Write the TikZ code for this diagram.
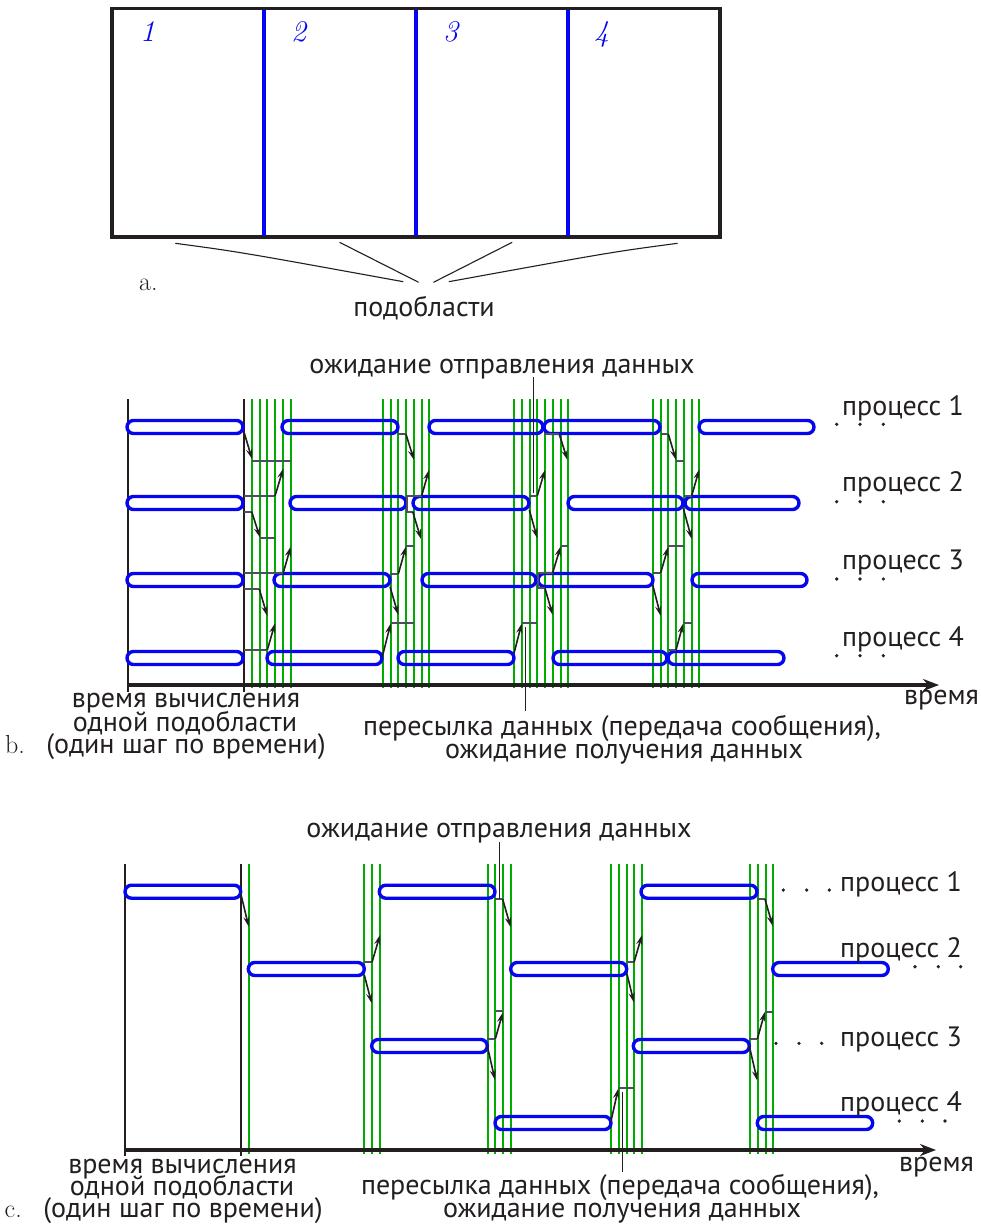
\documentclass[tikz,border=0pt]{standalone}
\usepackage{fontspec}
\newfontfamily\ru{PT Sans}
\usetikzlibrary{arrows.meta}
\definecolor{ink}{RGB}{35,31,32}
\definecolor{pblue}{RGB}{5,5,240}
\definecolor{ggreen}{RGB}{0,172,0}
\definecolor{wgray}{RGB}{78,78,92}
% one time-step of computation, drawn as a capsule
\newcommand\tpill[3]{\draw[pill] (#1,#3-6.5) rectangle (#2,#3+6.5);}
\begin{document}
\begin{tikzpicture}[x=1pt,y=-1pt,
  frame/.style={draw=ink,line width=3.4pt},
  divider/.style={draw=pblue,line width=3.4pt},
  digit/.style={text=pblue,font=\fontsize{30}{30}\selectfont\itshape,inner sep=0pt},
  lbl/.style={text=ink,font=\ru\fontsize{28}{28}\selectfont,inner sep=0pt},
  part/.style={text=ink,font=\fontsize{26}{26}\selectfont,inner sep=0pt},
  pointer/.style={draw=ink,line width=1.1pt},
  guide/.style={draw=ink,line width=2pt},
  grn/.style={draw=ggreen,line width=2.3pt},
  pill/.style={draw=pblue,line width=3.4pt,rounded corners=6.5pt},
  wait/.style={draw=wgray,line width=2.3pt},
  msg/.style={draw=ink,line width=1.6pt,-{Stealth[length=10pt,width=6pt]}},
  axis/.style={draw=ink,line width=4pt,-{Stealth[length=16pt,width=12pt]}},
  callout/.style={draw=ink,line width=1.5pt},
  dot/.style={fill=ink}]
\useasboundingbox (0,0) rectangle (981,1226);
\fill[white] (0,0) rectangle (981,1226);

% ---------------- a. domain split into four subdomains
\draw[frame] (112,8.5) rectangle (720,237);
\foreach \x in {264,416,568} \draw[divider] (\x,10) -- (\x,235.5);
\node[digit,anchor=base west] (d1) at (140,41.5) {1};
\node[digit,anchor=base west] (d2) at (291,41.5) {2};
\node[digit,anchor=base west] (d3) at (443,41.5) {3};
\node[digit,anchor=base west] (d4) at (594,41.5) {4};
\node[lbl,anchor=base] (sub) at (424,316) {подобласти};
\node[part,anchor=base west] (pa) at (139,290) {a.};
\coordinate (s1) at (175.3,243.3);
\coordinate (s2) at (339.5,242.3);
\coordinate (s3) at (512.2,242.3);
\coordinate (s4) at (677.6,243.3);
\coordinate (e1) at (403.3,281.7);
\coordinate (e2) at (418.6,282.3);
\coordinate (e3) at (433.5,282.3);
\coordinate (e4) at (448.8,281.7);
\draw[pointer] (s1) .. controls (240,252) .. (e1);
\draw[pointer] (s2) -- (e2);
\draw[pointer] (s3) -- (e3);
\draw[pointer] (s4) .. controls (612,252) .. (e4);

% ---------------- b. four processes, each step exchanging with both neighbours
\foreach \x in {252,259.7,267.3,275,283,290.7,
                382.7,390.7,398.3,406,414,421.7,429.3,
                514,521.7,530,537.3,545,552.7,560.7,568.3,
                652.7,660.7,668.3,676,684,691.7,699.3}
  \draw[grn] (\x,399) -- (\x,688);
\draw[guide] (128,399) -- (128,692);
\draw[guide] (244,399) -- (244,692);
\draw[axis] (126.5,685) -- (939,685);

\tpill{127}{243}{427}\tpill{282}{398}{427}\tpill{429}{543}{427}\tpill{544}{660}{427}\tpill{699}{814}{427}
\tpill{127}{243}{503}\tpill{290}{406}{503}\tpill{413}{529}{503}\tpill{568}{683}{503}\tpill{685}{799}{503}
\tpill{127}{243}{580}\tpill{274}{390}{580}\tpill{422}{536}{580}\tpill{538}{653}{580}\tpill{692}{807}{580}
\tpill{127}{243}{658}\tpill{267}{382}{658}\tpill{398}{514}{658}\tpill{553}{667}{658}\tpill{668}{784}{658}

% exchange 1
\draw[msg] (244,432) -- (252,459);
\draw[wait] (252,461) -- (290.7,461);
\draw[wait] (244,496) -- (275,496);
\draw[msg] (275,496) -- (283.3,468.5);
\draw[wait] (244,511.7) -- (251.7,511.7);
\draw[msg] (251.7,511.7) -- (260,537.5);
\draw[wait] (260,538.3) -- (275,538.3);
\draw[wait] (244,572.7) -- (283.3,572.7);
\draw[msg] (283.3,572.7) -- (290.7,546.7);
\draw[wait] (244,589) -- (259.3,589);
\draw[msg] (259.3,589) -- (267.3,616);
\draw[wait] (244,650) -- (267.3,650);
\draw[msg] (267.3,650) -- (275,623.3);
% exchange 2
\draw[wait] (398.3,434.3) -- (406,434.3);
\draw[msg] (406,434.3) -- (414,460);
\draw[wait] (406,495.7) -- (421.7,495.7);
\draw[msg] (421.7,495.7) -- (429,470);
\draw[wait] (406.7,495.7) -- (406.7,511.7);
\draw[wait] (406,511.7) -- (412.7,511.7);
\draw[msg] (412.7,511.7) -- (421,539);
\draw[wait] (390,574) -- (398.3,574);
\draw[msg] (398.3,574) -- (406,546.5);
\draw[wait] (406,546) -- (414,546);
\draw[msg] (390,586.7) -- (398.3,615);
\draw[msg] (382.3,656.7) -- (390.7,623.5);
\draw[wait] (390.7,623.3) -- (414,623.3);
% exchange 3
\draw[wait] (544,434.3) -- (559.3,434.3);
\draw[msg] (559.3,434.3) -- (567.5,460);
\draw[wait] (529.3,495.7) -- (537.3,495.7);
\draw[msg] (537.3,495.7) -- (545,470);
\draw[msg] (529.3,510) -- (537.3,538.3);
\draw[wait] (538.3,572.7) -- (552.7,572.7);
\draw[msg] (552.7,572.7) -- (560.7,546.3);
\draw[wait] (560.7,546) -- (568.3,546);
\draw[wait] (538.3,572.7) -- (538.3,588.3) -- (545,588.3);
\draw[msg] (545,588.3) -- (552.7,615);
\draw[msg] (514,653.3) -- (521.7,623.5);
\draw[wait] (521.7,623.3) -- (537.3,623.3);
% exchange 4
\draw[wait] (660.7,434) -- (668.3,434);
\draw[msg] (668.3,434) -- (676,460);
\draw[wait] (676,461) -- (684,461);
\draw[wait] (684.3,495.7) -- (691.7,495.7);
\draw[msg] (691.7,495.7) -- (699.3,469.3);
\draw[msg] (683.3,508.3) -- (691.7,539);
\draw[wait] (652.7,572.7) -- (660.7,572.7);
\draw[msg] (660.7,572.7) -- (668.3,546.7);
\draw[wait] (668.3,545.7) -- (684,545.7);
\draw[msg] (652.7,585) -- (660.7,616);
\draw[wait] (669.3,650) -- (676,650);
\draw[msg] (676,650) -- (683.3,623.3);
\draw[wait] (683.3,623.3) -- (691.7,623.3);

\foreach \y in {424.3,501.7,579,655.7}
  \foreach \x in {836.7,860,883.3} \fill[dot] (\x,\y) circle (1.8);
\node[lbl,anchor=base west] (bp1) at (842,415) {процесс 1};
\node[lbl,anchor=base west] (bp2) at (842,491.7) {процесс 2};
\node[lbl,anchor=base west] (bp3) at (842,569.3) {процесс 3};
\node[lbl,anchor=base west] (bp4) at (842,646.7) {процесс 4};

\node[lbl,anchor=base] (bsend) at (502,373) {ожидание отправления данных};
\coordinate (bsendtop) at (533.3,377);
\coordinate (bsendbot) at (533.3,493);
\draw[callout] (bsendtop) -- (bsendbot);
\coordinate (brecvtop) at (525.5,627);
\coordinate (brecvbot) at (525.5,711);
\draw[callout] (brecvtop) -- (brecvbot);

\node[lbl,anchor=base west] (btime) at (904,704) {время};
\node[lbl,anchor=base] (bstep1) at (186,707) {время вычисления};
\node[lbl,anchor=base] (bstep2) at (185,731) {одной подобласти};
\node[lbl,anchor=base] (bstep3) at (186,753) {(один шаг по времени)};
\node[part,anchor=base west] (pb) at (5,753) {b.};
\node[lbl,anchor=base] (bmsg1) at (622,735) {пересылка данных (передача сообщения),};
\node[lbl,anchor=base] (bmsg2) at (624,758) {ожидание получения данных};

% ---------------- c. pipelined schedule, one process active at a time
\foreach \x in {248.7, 364,372,380, 487.7,495.3,503,511,
                610.7,618.7,626.7,634,642, 750,758,765.7,773.3}
  \draw[grn] (\x,864) -- (\x,1154);
\draw[guide] (125,864) -- (125,1156);
\draw[guide] (240.7,864) -- (240.7,1156);
\draw[axis] (123.5,1150) -- (936,1150);

\tpill{125}{240.7}{891.7}\tpill{379.3}{495}{891.7}\tpill{641}{757}{891.7}
\tpill{248.3}{364.3}{969}\tpill{510.7}{626.7}{969}\tpill{772.7}{888.3}{969}
\tpill{371.7}{487.3}{1046}\tpill{633.3}{749.3}{1046}
\tpill{495}{611}{1123}\tpill{757.3}{872.7}{1123}

\draw[msg] (240.7,893.3) -- (248.7,926.7);
\draw[wait] (364.3,962.3) -- (372,962.3);
\draw[msg] (372,962.3) -- (380,935);
\draw[msg] (364.3,975) -- (371.7,1003.3);
\draw[wait] (495,899.3) -- (502.7,899.3);
\draw[msg] (502.7,899.3) -- (510.7,927.3);
\draw[wait] (487.3,1039) -- (495.3,1039);
\draw[msg] (495.3,1039) -- (502.7,1012.7);
\draw[wait] (495.7,1011) -- (502.7,1011);
\draw[msg] (487.3,1046) -- (495,1080);
\draw[msg] (611,1121) -- (618.3,1088.5);
\draw[wait] (618.3,1088.3) -- (634,1088.3);
\draw[wait] (627,962.3) -- (634,962.3);
\draw[msg] (634,962.3) -- (642,935);
\draw[msg] (627,974) -- (634,1002.7);
\draw[wait] (757,899.3) -- (765,899.3);
\draw[msg] (765,899.3) -- (772.7,926);
\draw[wait] (749.3,1039) -- (757.3,1039);
\draw[msg] (757.3,1039) -- (765,1011.7);
\draw[wait] (765,1011.7) -- (772.7,1011.7);
\draw[msg] (749.3,1046) -- (757.3,1080.7);

\foreach \x in {783.3,806.7,829.3} \fill[dot] (\x,890) circle (1.8);
\foreach \x in {915,938.3,960.7} \fill[dot] (\x,966.7) circle (1.8);
\foreach \x in {776,799,821.7} \fill[dot] (\x,1043.3) circle (1.8);
\foreach \x in {899.3,922.3,945} \fill[dot] (\x,1121) circle (1.8);
\node[lbl,anchor=base west] (cp1) at (840,891.7) {процесс 1};
\node[lbl,anchor=base west] (cp2) at (840,957.3) {процесс 2};
\node[lbl,anchor=base west] (cp3) at (840,1046) {процесс 3};
\node[lbl,anchor=base west] (cp4) at (840,1111.7) {процесс 4};

\node[lbl,anchor=base] (csend) at (499,837) {ожидание отправления данных};
\coordinate (csendtop) at (499.3,842);
\coordinate (csendbot) at (499.3,899);
\draw[callout] (csendtop) -- (csendbot);
\coordinate (crecvtop) at (622.7,1092);
\coordinate (crecvbot) at (622.7,1172);
\draw[callout] (crecvtop) -- (crecvbot);

\node[lbl,anchor=base west] (ctime) at (899,1171) {время};
\node[lbl,anchor=base] (cstep1) at (182.5,1173) {время вычисления};
\node[lbl,anchor=base] (cstep2) at (182,1195) {одной подобласти};
\node[lbl,anchor=base] (cstep3) at (183,1217) {(один шаг по времени)};
\node[part,anchor=base west] (pc) at (4.5,1217) {c.};
\node[lbl,anchor=base] (cmsg1) at (620,1194) {пересылка данных (передача сообщения),};
\node[lbl,anchor=base] (cmsg2) at (622,1217) {ожидание получения данных};
\end{tikzpicture}
\end{document}
